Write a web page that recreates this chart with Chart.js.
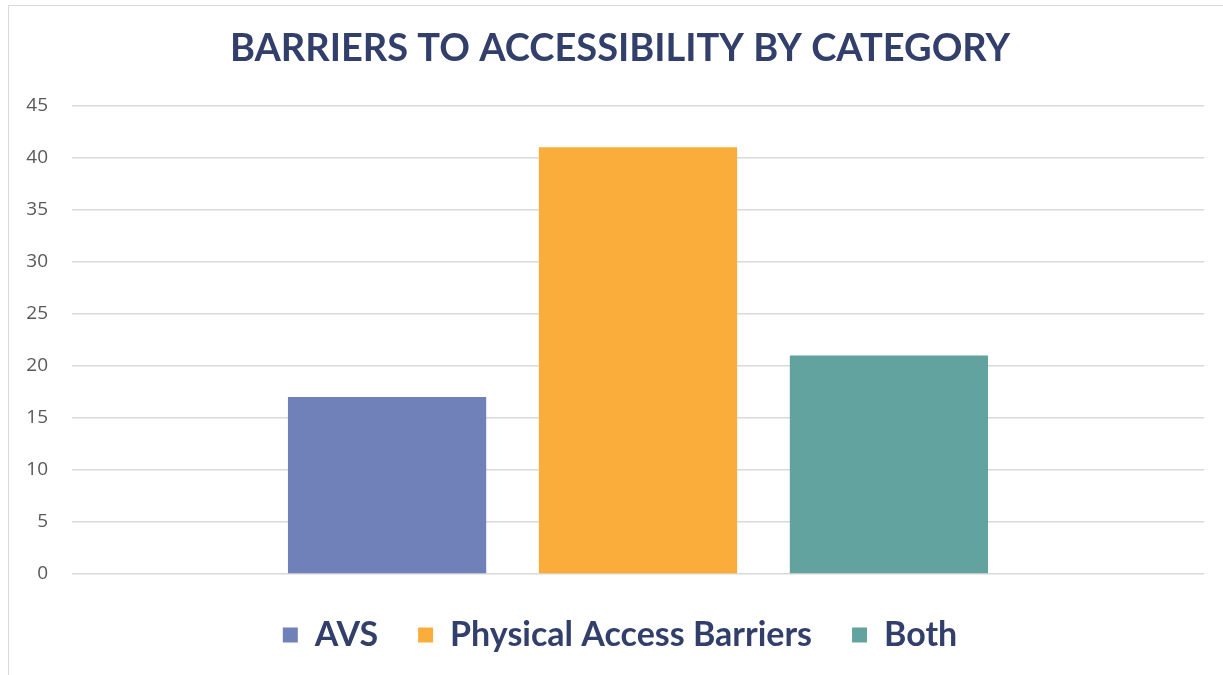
<!DOCTYPE html>
<html>
<head>
<meta charset="utf-8">
<script src="https://cdn.jsdelivr.net/npm/chart.js@4/dist/chart.umd.min.js"></script>
<style>
  html, body { margin: 0; padding: 0; background: #ffffff; overflow: hidden; }
  #frame { position: absolute; left: 8px; top: 5px; width: 1400px; height: 800px;
           border-left: 1px solid #d9d9d9; border-top: 1px solid #d9d9d9; box-sizing: border-box; }
  #wrap { position: absolute; left: 0; top: 0; width: 1223px; height: 675px; }
</style>
</head>
<body>
<div id="frame"></div>
<div id="wrap"><canvas id="c" width="1223" height="675"></canvas></div>
<script>
const chartTitle = 'BARRIERS TO ACCESSIBILITY BY CATEGORY';
const categories = ['Barriers'];
const seriesNames = ['AVS', 'Physical Access Barriers', 'Both'];
const avsValues = [17];
const physicalValues = [41];
const bothValues = [21];
const yTicks = [0, 5, 10, 15, 20, 25, 30, 35, 40, 45];
const seriesColors = ['#7080B8', '#FAAD3A', '#62A39F'];

const navy = '#323F6B';

new Chart(document.getElementById('c'), {
  type: 'bar',
  data: {
    labels: categories,
    datasets: [
      { label: seriesNames[0], data: avsValues, backgroundColor: seriesColors[0] },
      { label: seriesNames[1], data: physicalValues, backgroundColor: seriesColors[1] },
      { label: seriesNames[2], data: bothValues, backgroundColor: seriesColors[2] }
    ]
  },
  options: {
    responsive: false,
    animation: false,
    devicePixelRatio: 1,
    categoryPercentage: 0.665,
    barPercentage: 0.79,
    layout: { padding: { left: 17, right: 0, top: 0, bottom: 13 } },
    plugins: {
      title: {
        display: true,
        text: chartTitle,
        color: navy,
        font: { family: 'Lato', size: 38, weight: 'bold' },
        padding: { top: 26, bottom: 34 }
      },
      legend: {
        display: true,
        position: 'bottom',
        labels: {
          color: navy,
          font: { family: 'Lato', size: 34, weight: 'bold' },
          boxWidth: 15,
          boxHeight: 15,
          padding: 40
        }
      },
      tooltip: { enabled: false }
    },
    scales: {
      x: {
        afterFit: (scale) => { scale.height = 4; },
        grid: { display: false, drawTicks: false },
        border: { display: false },
        ticks: { display: false }
      },
      y: {
        min: 0,
        max: 45,
        afterBuildTicks: (scale) => { scale.ticks = yTicks.map(v => ({ value: v })); },
        afterFit: (scale) => { scale.width = 55; },
        grid: { color: '#d9d9d9', lineWidth: 1.5, drawTicks: false },
        border: { display: false },
        ticks: {
          color: '#595959',
          font: { family: 'Open Sans', size: 19 },
          padding: 24
        }
      },
      yRight: {
        position: 'right',
        min: 0,
        max: 45,
        afterFit: (scale) => { scale.width = 19; },
        grid: { display: false, drawTicks: false },
        border: { display: false },
        ticks: { display: false }
      }
    }
  }
});
</script>
</body>
</html>
